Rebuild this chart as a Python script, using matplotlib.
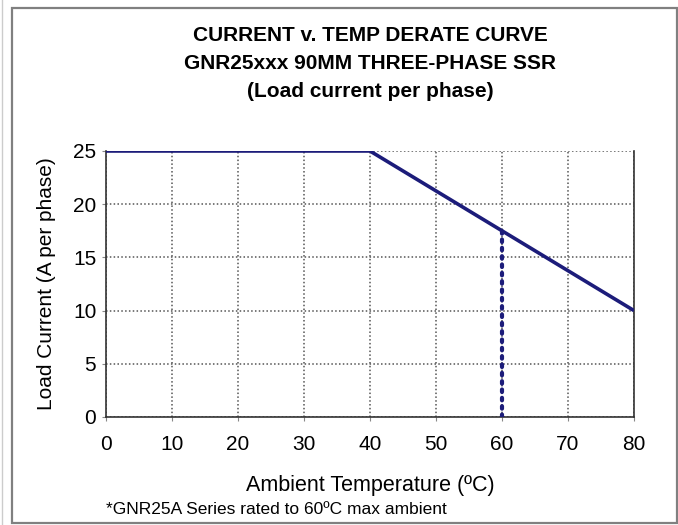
import matplotlib
matplotlib.use("Agg")
import matplotlib.pyplot as plt
from matplotlib.patches import Rectangle
from matplotlib.lines import Line2D

plt.rcParams['font.family'] = ['Liberation Sans', 'DejaVu Sans']

temp = [0, 40, 80]
current = [25, 25, 10]
limit_temp = [60, 60]
limit_current = [0, 17.5]
xticks = [0, 10, 20, 30, 40, 50, 60, 70, 80]
yticks = [0, 5, 10, 15, 20, 25]
title = "CURRENT v. TEMP DERATE CURVE\nGNR25xxx 90MM THREE-PHASE SSR\n(Load current per phase)"
xlabel = "Ambient Temperature (ºC)"
ylabel = "Load Current (A per phase)"
note = "*GNR25A Series rated to 60ºC max ambient"

W, H = 678, 525
fig = plt.figure(figsize=(W/100, H/100), dpi=100)
ax = fig.add_axes([106/W, 1-417/H, (634-106)/W, (417-151)/H])

navy = '#1c1c7a'
ax.plot(temp, current, color=navy, lw=2.6, solid_capstyle='butt', zorder=3)
ax.plot(limit_temp, limit_current, color=navy, lw=3, ls=(0, (0.6, 1.4)),
        dash_capstyle='round', zorder=3)

ax.set_xlim(0, 80)
ax.set_ylim(0, 25)
ax.set_xticks(xticks)
ax.set_yticks(yticks)
ax.tick_params(axis='both', labelsize=15, length=3, color='#888888', direction='out')
ax.tick_params(axis='y', pad=4)
ax.tick_params(axis='x', pad=10)
ax.grid(True, color='#555555', ls=(0, (1, 1.5)), lw=1.1)
for s in ['left', 'bottom', 'right']:
    ax.spines[s].set_color('#333333')
    ax.spines[s].set_linewidth(1.2)
ax.spines['top'].set_visible(False)

ax.set_xlabel(xlabel, fontsize=15.5)
ax.xaxis.set_label_coords(0.5, -(485-417)/266)
ax.xaxis.label.set_va('center')
ax.set_ylabel(ylabel, fontsize=15)
ax.yaxis.set_label_coords(-(106-46)/528, 0.5)
ax.yaxis.label.set_va('center')

fig.text(370/W, 1-26/H, title, ha='center', va='top', fontsize=15, fontweight='bold', linespacing=1.6)
fig.text(106/W, 1-510/H, note, ha='left', va='center', fontsize=12.5)

fig.patches.append(Rectangle((12/W, 2/H), 1-12/W-1.5/W, 1-10/H, transform=fig.transFigure,
                             fill=False, edgecolor='#808080', lw=1.6))
fig.lines.append(Line2D([2/W, 2/W], [0, 1], transform=fig.transFigure, color='#cccccc', lw=1))

fig.savefig("out.png", dpi=100)
